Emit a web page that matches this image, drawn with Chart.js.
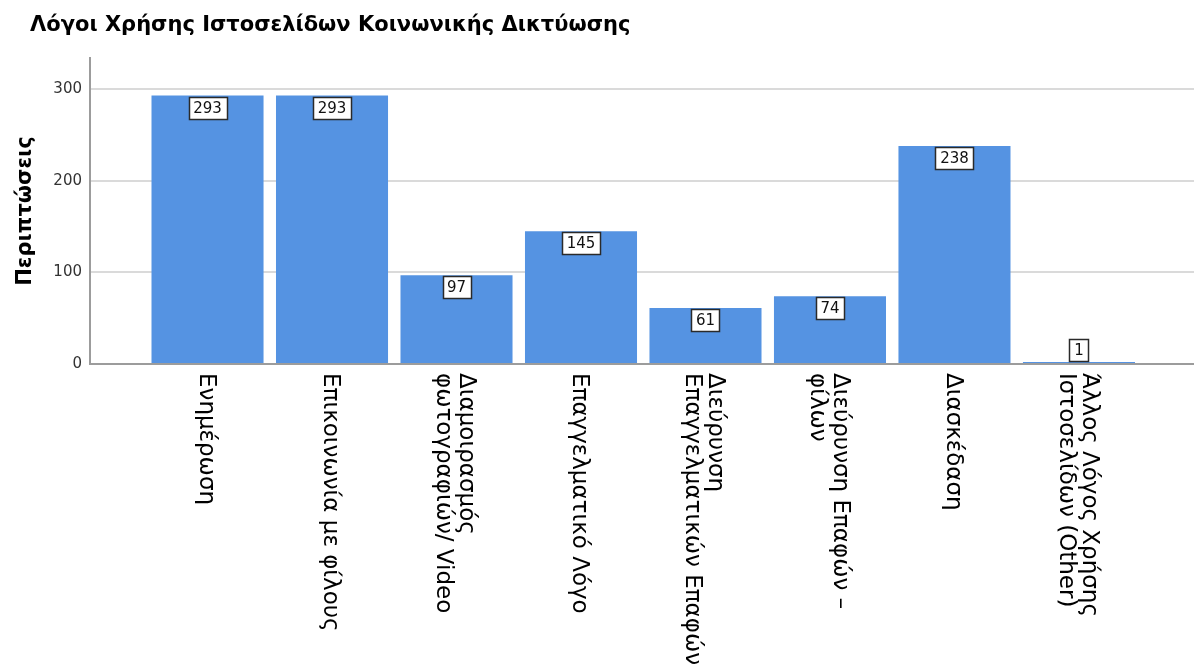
<!DOCTYPE html>
<html>
<head>
<meta charset="utf-8">
<script src="https://cdn.jsdelivr.net/npm/chart.js@4.4.1/dist/chart.umd.min.js"></script>
<style>
  html, body { margin: 0; padding: 0; background: #fff; }
  canvas { display: block; }
</style>
</head>
<body>
<canvas id="reasons_canvas" width="1194" height="666"></canvas>
<script>
// data
var chartTitle = 'Λόγοι Χρήσης Ιστοσελίδων Κοινωνικής Δικτύωσης';
var yTitle = 'Περιπτώσεις';
var categories = [
    ['Ενημέρωση'],
    ['Επικοινωνία με φίλους'],
    ['Διαμοιρασμός', 'φωτογραφιών/ Video'],
    ['Επαγγελματικό Λόγο'],
    ['Διεύρυνση', 'Επαγγελματικών Επαφών'],
    ['Διεύρυνση Επαφών –', 'φίλων'],
    ['Διασκέδαση'],
    ['Άλλος Λόγος Χρήσης', 'Ιστοσελίδων (Other)']
];
var cases = [293, 293, 97, 145, 61, 74, 238, 1];
var yTicks = [0, 100, 200, 300];

var barColor = '#5593e2';

// title in the top left corner
var titlePlugin = {
    id: 'titleLeft',
    afterDraw: function(chart){
        var ctx = chart.ctx;
        ctx.save();
        ctx.fillStyle = '#000';
        ctx.font = 'bold 21px "DejaVu Sans"';
        ctx.textAlign = 'left';
        ctx.textBaseline = 'alphabetic';
        ctx.fillText(chartTitle, 30, 31);
        ctx.restore();
    }
};

// category names, turned to read top to bottom
var catLabels = {
    id: 'catLabels',
    afterDraw: function(chart){
        var ctx = chart.ctx;
        var xs = chart.scales.x;
        var top = chart.chartArea.bottom + 9;
        var lh = 23;
        ctx.save();
        ctx.fillStyle = '#000';
        ctx.font = '23px "DejaVu Sans"';
        ctx.textAlign = 'left';
        ctx.textBaseline = 'middle';
        for (var i = 0; i < categories.length; i++) {
            var lines = categories[i];
            var cx = xs.getPixelForValue(i) - 2;
            ctx.save();
            ctx.translate(cx, top);
            ctx.rotate(Math.PI / 2);
            for (var j = 0; j < lines.length; j++) {
                var off = (j - (lines.length - 1) / 2) * lh;
                ctx.fillText(lines[j], 0, off);
            }
            ctx.restore();
        }
        ctx.restore();
    }
};

// boxed counts at the top of each bar
var valueBoxes = {
    id: 'valueBoxes',
    afterDatasetsDraw: function(chart){
        var ctx = chart.ctx;
        var meta = chart.getDatasetMeta(0);
        ctx.save();
        ctx.font = '15px "DejaVu Sans"';
        ctx.textAlign = 'center';
        ctx.textBaseline = 'middle';
        meta.data.forEach(function(bar, i){
            var txt = String(cases[i]);
            var w = Math.round(ctx.measureText(txt).width + 9);
            var h = 22;
            var boxTop = (bar.base - bar.y >= h) ? bar.y + 1 : bar.y - h - 1;
            var left = Math.round(bar.x - w / 2) + 0.5;
            boxTop = Math.round(boxTop) + 0.5;
            ctx.fillStyle = '#fff';
            ctx.fillRect(left, boxTop, w, h);
            ctx.strokeStyle = '#2a2a2a';
            ctx.lineWidth = 1.5;
            ctx.strokeRect(left, boxTop, w, h);
            ctx.fillStyle = '#111';
            ctx.fillText(txt, bar.x, boxTop + h / 2 + 1);
        });
        ctx.restore();
    }
};

var points = [];
for (var i = 0; i < cases.length; i++) {
    points.push({x: i, y: cases[i]});
}

var chartdata = {
    datasets: [{
        label: yTitle,
        data: points,
        backgroundColor: barColor,
        borderWidth: 0,
        minBarLength: 2,
        categoryPercentage: 1,
        barPercentage: 0.9
    }]
};

var options = {
    responsive: false,
    devicePixelRatio: 1,
    animation: false,
    layout: { padding: { top: 58, left: 0, right: 0, bottom: 0 } },
    plugins: {
        legend: { display: false },
        title: { display: false },
        tooltip: { enabled: false }
    },
    scales: {
        x: {
            type: 'linear',
            offset: false,
            min: -0.944,
            max: 7.924,
            ticks: { display: false },
            afterBuildTicks: function(scale){
                scale.ticks = categories.map(function(c, i){ return {value: i}; });
            },
            grid: { display: false, offset: false },
            border: { display: true, color: '#9c9c9c', width: 2 },
            afterFit: function(scale){ scale.height = 302; }
        },
        y: {
            min: 0,
            max: 334,
            ticks: {
                stepSize: 100,
                padding: 8,
                color: '#333',
                font: { family: 'DejaVu Sans', size: 15 }
            },
            afterBuildTicks: function(scale){
                scale.ticks = yTicks.map(function(v){ return {value: v}; });
            },
            afterFit: function(scale){ scale.width = 90; },
            grid: {
                drawTicks: false,
                lineWidth: 2,
                color: function(c){
                    return (c.tick && c.tick.value === 0) ? 'rgba(0,0,0,0)' : '#dadada';
                }
            },
            border: { display: true, color: '#9c9c9c', width: 2 },
            title: {
                display: true,
                text: yTitle,
                color: '#000',
                font: { family: 'DejaVu Sans', size: 21, weight: 'bold' },
                padding: { top: 13, bottom: 0 }
            }
        }
    }
};

var ctx = document.getElementById('reasons_canvas');
var chart = new Chart(ctx, {
    type: 'bar',
    data: chartdata,
    options: options,
    plugins: [titlePlugin, catLabels, valueBoxes]
});
</script>
</body>
</html>
